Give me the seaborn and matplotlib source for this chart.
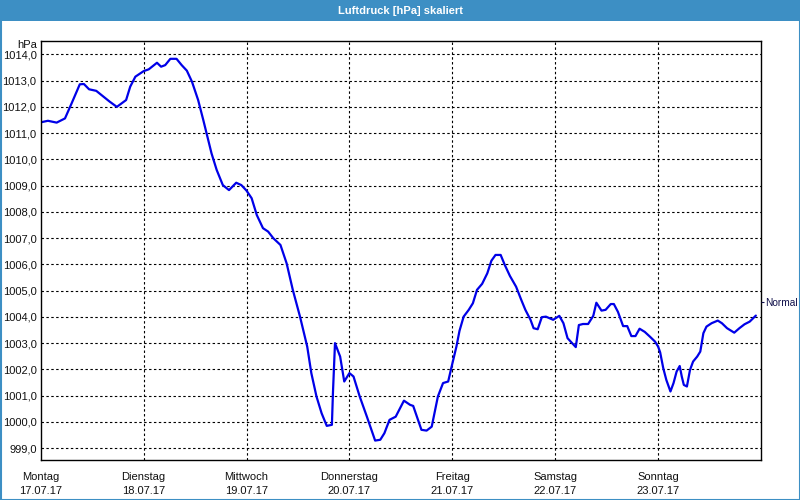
import matplotlib
matplotlib.use("Agg")
import matplotlib.pyplot as plt
import seaborn as sns
import pandas as pd
from matplotlib.patches import Rectangle

# ---- data ----
day_offset = [0.00, 0.07, 0.155, 0.236, 0.30, 0.38, 0.42, 0.47, 0.54, 0.61, 0.67, 0.74, 0.83, 0.87, 0.92,
              1.00, 1.05, 1.13, 1.17, 1.21, 1.26, 1.32, 1.37, 1.42, 1.47, 1.53, 1.58, 1.66, 1.71, 1.77,
              1.83, 1.90, 1.95, 2.00, 2.05, 2.10, 2.16, 2.21, 2.26, 2.33, 2.39, 2.45, 2.52, 2.59, 2.63,
              2.68, 2.73, 2.78, 2.83, 2.84, 2.86, 2.91, 2.95, 3.00, 3.04, 3.10, 3.17, 3.25, 3.30, 3.34,
              3.39, 3.45, 3.53, 3.59, 3.62, 3.70, 3.75, 3.80, 3.86, 3.91, 3.96, 3.99, 4.04, 4.07, 4.11,
              4.16, 4.20, 4.24, 4.29, 4.34, 4.38, 4.42, 4.47, 4.51, 4.56, 4.62, 4.67, 4.71, 4.76, 4.79,
              4.83, 4.87, 4.91, 4.98, 5.04, 5.08, 5.12, 5.16, 5.20, 5.23, 5.27, 5.32, 5.37, 5.40, 5.45,
              5.49, 5.54, 5.57, 5.61, 5.66, 5.70, 5.74, 5.78, 5.82, 5.87, 5.92, 5.97, 6.00, 6.02, 6.05,
              6.08, 6.12, 6.15, 6.18, 6.21, 6.23, 6.25, 6.28, 6.31, 6.34, 6.38, 6.41, 6.44, 6.47, 6.52,
              6.58, 6.62, 6.67, 6.74, 6.79, 6.84, 6.89, 6.95]
pressure = [1011.41, 1011.47, 1011.40, 1011.56, 1012.13, 1012.86, 1012.87, 1012.67, 1012.61, 1012.39,
            1012.20, 1012.00, 1012.26, 1012.77, 1013.15, 1013.36, 1013.43, 1013.68, 1013.53, 1013.59,
            1013.83, 1013.83, 1013.59, 1013.38, 1012.96, 1012.26, 1011.50, 1010.23, 1009.60, 1009.02,
            1008.83, 1009.11, 1009.02, 1008.81, 1008.52, 1007.88, 1007.38, 1007.25, 1007.00, 1006.74,
            1006.04, 1005.03, 1004.01, 1002.87, 1001.86, 1000.97, 1000.33, 999.85, 999.89, 1001.10,
            1003.00, 1002.49, 1001.54, 1001.86, 1001.73, 1000.97, 1000.20, 999.29, 999.32, 999.57,
            1000.08, 1000.20, 1000.81, 1000.65, 1000.61, 999.70, 999.67, 999.82, 1000.97, 1001.48,
            1001.54, 1002.05, 1002.87, 1003.47, 1004.01, 1004.27, 1004.52, 1005.03, 1005.26, 1005.66,
            1006.14, 1006.36, 1006.36, 1005.98, 1005.56, 1005.15, 1004.65, 1004.27, 1003.89, 1003.57,
            1003.53, 1003.99, 1004.01, 1003.89, 1004.04, 1003.76, 1003.19, 1003.02, 1002.85, 1003.69,
            1003.73, 1003.73, 1004.04, 1004.54, 1004.24, 1004.27, 1004.49, 1004.49, 1004.19, 1003.65,
            1003.65, 1003.27, 1003.27, 1003.55, 1003.43, 1003.25, 1003.06, 1002.87, 1002.65, 1002.05,
            1001.60, 1001.16, 1001.48, 1001.92, 1002.13, 1001.73, 1001.41, 1001.35, 1001.98, 1002.30,
            1002.49, 1002.68, 1003.38, 1003.63, 1003.76, 1003.86, 1003.76, 1003.57, 1003.40, 1003.57,
            1003.72, 1003.82, 1004.05]
day_names = ["Montag", "Dienstag", "Mittwoch", "Donnerstag", "Freitag", "Samstag", "Sonntag"]
day_dates = ["17.07.17", "18.07.17", "19.07.17", "20.07.17", "21.07.17", "22.07.17", "23.07.17"]
y_ticks = list(range(999, 1015))
normal_value = 1004.57
title = "Luftdruck [hPa] skaliert"

df = pd.DataFrame({"day": day_offset, "hPa": pressure})

sns.set_style("white")
plt.rcParams["font.family"] = ["Liberation Sans", "DejaVu Sans"]

fig = plt.figure(figsize=(8, 5), dpi=100)
fig.patch.set_facecolor("white")
ax = fig.add_axes([40.7 / 800, 1 - 460 / 500, (761 - 40.7) / 800, (460 - 40.7) / 500])

sns.lineplot(data=df, x="day", y="hPa", ax=ax, color="#0000e8", linewidth=1.6, sort=False)

ax.set_xlim(0, 7)
ax.set_ylim(998.55, 1014.52)
ax.set_xlabel("")
ax.set_ylabel("")

ax.set_yticks(y_ticks)
ax.set_yticklabels([f"{v:.1f}".replace(".", ",") for v in y_ticks], fontsize=8, color="#111111")
ax.set_xticks(range(7))
ax.set_xticklabels([f"{n}\n{d}" for n, d in zip(day_names, day_dates)], fontsize=8,
                   color="#111111", linespacing=1.45)
ax.tick_params(axis="y", length=0, pad=3)
ax.tick_params(axis="x", length=3, width=0.8, pad=6, direction="out", colors="#111111")

dash = (0, (2.2, 2.2))
for v in y_ticks:
    ax.axhline(v, color="black", linewidth=0.8, linestyle=dash, zorder=0)
for d in range(1, 7):
    ax.axvline(d, color="black", linewidth=0.8, linestyle=dash, zorder=0)

for s in ax.spines.values():
    s.set_visible(True)
    s.set_color("black")
    s.set_linewidth(1.0)

# right "Normal" marker
ax2 = ax.twinx()
ax2.set_ylim(ax.get_ylim())
ax2.set_yticks([normal_value])
ax2.set_yticklabels(["Normal"], fontsize=7.3, color="#10104a")
ax2.tick_params(axis="y", length=2.5, width=0.8, pad=0.5, colors="#10104a")
for s in ax2.spines.values():
    s.set_visible(False)

fig.text(37 / 800, 1 - 45.5 / 500, "hPa", ha="right", va="center", fontsize=8, color="#111111")

# title bar
fig.patches.append(Rectangle((0, 1 - 20.5 / 500), 1, 20.5 / 500, transform=fig.transFigure,
                             facecolor="#3d8fc4", edgecolor="none", zorder=0))
fig.text(0.5, 1 - 10.5 / 500, title, ha="center", va="center", fontsize=8, fontweight="bold",
         color="white")
# outer frame
fig.patches.append(Rectangle((0.5 / 800, 0.5 / 500), 799 / 800, 499 / 500, transform=fig.transFigure,
                             facecolor="none", edgecolor="#3d8fc4", linewidth=1.5, zorder=0))

fig.savefig("out.png", dpi=100)
